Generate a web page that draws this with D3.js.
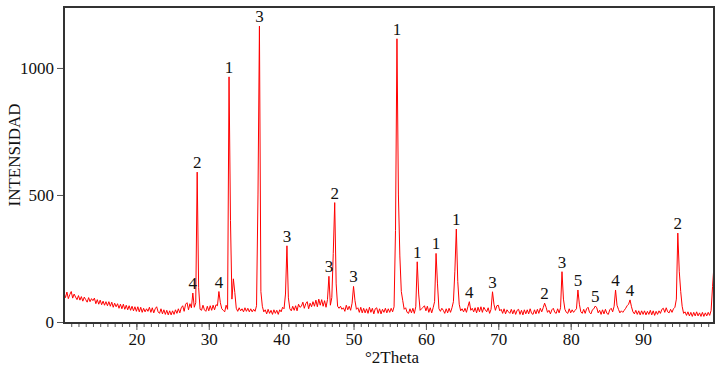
<html>
    <head>
        <style>
            body { margin: 0; background: white; }
            .line { fill: none; stroke: #ff0000; stroke-width: 1; }
        </style>
    </head>
    <body>
        <script src="https://cdn.jsdelivr.net/npm/d3@7"></script>

        <svg id="chart" width="720" height="370"></svg>

        <script>
            // diffractogram, one count value every 0.2 deg from 10.0
            let startAngle = 10;
            let stepAngle = 0.2;
            let counts = [
                112,96,118,92,108,120,94,110,98,88,       // 10
                104,86,100,82,98,88,78,96,80,92,          // 12
                84,94,72,88,70,86,68,82,66,80,            // 14
                64,80,62,78,58,74,60,72,54,70,            // 16
                52,70,50,66,48,64,46,62,44,60,            // 18
                42,60,40,58,38,54,40,52,42,58,            // 20
                38,56,36,52,60,40,34,52,32,48,            // 22
                30,46,28,44,28,44,30,48,34,52,            // 24
                36,56,64,42,70,76,48,72,56,114,           // 26
                58,76,590,135,50,46,66,48,42,62,          // 28
                44,64,46,66,48,68,64,120,76,52,           // 30
                46,40,66,50,965,400,90,170,116,54,        // 32
                42,56,44,52,40,56,42,54,40,52,            // 34
                40,50,42,64,500,1165,120,62,40,48,        // 36
                32,50,34,46,30,48,34,46,30,48,            // 38
                40,58,52,110,300,95,52,44,62,46,          // 40
                64,44,70,58,62,78,54,72,80,52,            // 42
                74,60,80,62,86,60,90,66,88,62,            // 44
                84,58,88,180,66,96,270,470,150,62,        // 46
                54,62,50,56,42,66,48,62,46,74,            // 48
                140,84,50,56,38,58,36,54,36,52,           // 50
                34,58,38,54,32,52,56,34,52,32,            // 52
                50,38,54,36,52,38,54,40,60,360,           // 54
                1115,500,260,120,84,50,56,38,34,52,       // 56
                36,54,34,60,237,110,46,52,58,64,          // 58
                44,62,38,56,36,56,80,270,150,52,          // 60
                42,54,46,34,52,36,54,38,56,80,            // 62
                200,366,160,70,44,52,40,54,38,60,         // 64
                80,46,54,40,56,36,58,40,60,38,            // 66
                58,48,40,56,34,50,119,70,46,64,           // 68
                66,44,50,34,52,32,48,40,34,50,            // 70
                32,48,30,46,50,30,46,28,48,32,            // 72
                48,32,52,34,30,48,32,50,34,54,            // 74
                40,56,74,58,38,46,32,48,54,38,            // 76
                34,52,36,56,198,90,50,38,34,52,           // 78
                36,48,38,46,52,126,70,40,34,50,           // 80
                34,52,58,38,32,48,52,63,56,36,            // 82
                46,30,48,32,50,34,30,48,54,40,            // 84
                62,126,66,50,36,44,38,46,54,64,           // 86
                70,87,60,40,32,46,30,44,28,44,            // 88
                30,44,28,42,30,46,28,44,26,42,            // 90
                30,44,34,50,54,38,56,40,36,50,            // 92
                38,52,58,90,350,200,120,62,34,40,         // 94
                26,40,24,38,22,38,24,40,24,36,            // 96
                22,38,22,36,24,38,26,45,140,225           // 98
            ];

            // phase numbers written over the peaks
            let labelAngles = [27.8, 28.4, 31.4, 32.8, 37.0, 40.8, 46.6, 47.4, 50.0, 56.0, 58.8,
                               61.4, 64.2, 66.0, 69.2, 76.4, 78.8, 81.0, 83.4, 86.2, 88.2, 94.8];
            let labelTexts  = ["4", "2", "4", "1", "3", "3", "3", "2", "3", "1", "1",
                               "1", "1", "4", "3", "2", "3", "5", "5", "4", "4", "2"];

            let xTicks = [20, 30, 40, 50, 60, 70, 80, 90];
            let yTicks = [0, 500, 1000];

            let data = counts.map((c, i) => ({x: +(startAngle + i * stepAngle).toFixed(1), y: c}));

            let plotLeft = 64, plotTop = 7, plotRight = 714, plotBottom = 322;
            let serif = "Liberation Serif";

            let xScale = d3.scaleLinear().domain([10, 99.8]).range([plotLeft, plotRight]);
            let yScale = d3.scaleLinear().domain([0, 1240]).range([plotBottom, plotTop]);

            let svg = d3.select("#chart");

            svg.append("clipPath").attr("id", "plotclip")
                .append("rect")
                .attr("x", plotLeft).attr("y", plotTop)
                .attr("width", plotRight - plotLeft).attr("height", plotBottom - plotTop);

            let lineGenerator = d3.line()
                .x(d => xScale(d.x))
                .y(d => yScale(d.y));

            svg.append("path")
                .datum(data)
                .attr("class", "line")
                .attr("clip-path", "url(#plotclip)")
                .attr("d", lineGenerator);

            // minor ticks every degree
            let minor = d3.axisBottom(xScale)
                .tickValues(d3.range(11, 100))
                .tickSize(4)
                .tickFormat("");
            svg.append("g")
                .attr("transform", `translate(0, ${plotBottom + 1})`)
                .call(minor)
                .call(g => g.select(".domain").remove())
                .call(g => g.selectAll("line").attr("stroke", "#555"));

            let xAxis = d3.axisBottom(xScale)
                .tickValues(xTicks)
                .tickFormat(d3.format("d"))
                .tickSize(7)
                .tickPadding(3);
            svg.append("g")
                .attr("transform", `translate(0, ${plotBottom + 1})`)
                .call(xAxis)
                .attr("font-family", serif)
                .attr("font-size", 17)
                .call(g => g.select(".domain").remove())
                .call(g => g.selectAll("line").attr("stroke", "#555"))
                .call(g => g.selectAll("text").attr("fill", "#111"));

            let yAxis = d3.axisLeft(yScale)
                .tickValues(yTicks)
                .tickFormat(d3.format("d"))
                .tickSize(7)
                .tickPadding(3);
            svg.append("g")
                .attr("transform", `translate(${plotLeft}, 0)`)
                .call(yAxis)
                .attr("font-family", serif)
                .attr("font-size", 17)
                .call(g => g.select(".domain").remove())
                .call(g => g.selectAll("line").attr("stroke", "#555"))
                .call(g => g.selectAll("text").attr("fill", "#111"));

            // frame
            svg.append("rect")
                .attr("x", plotLeft).attr("y", plotTop)
                .attr("width", plotRight - plotLeft).attr("height", plotBottom + 1 - plotTop)
                .attr("fill", "none")
                .attr("stroke", "#333")
                .attr("stroke-width", 2);

            // peak numbers
            let peakHeight = a => {
                let near = data.filter(d => Math.abs(d.x - a) < 0.05);
                return near.length ? near[0].y : 0;
            };
            svg.append("g").selectAll("text")
                .data(labelAngles)
                .enter()
                .append("text")
                .attr("x", d => xScale(d))
                .attr("y", d => yScale(peakHeight(d)) - 4)
                .attr("text-anchor", "middle")
                .attr("font-family", serif)
                .attr("font-size", 17)
                .attr("fill", "#111")
                .text((d, i) => labelTexts[i]);

            svg.append("text")
                .attr("x", 392).attr("y", 363)
                .attr("text-anchor", "middle")
                .attr("font-family", serif)
                .attr("font-size", 17)
                .attr("fill", "#111")
                .text("°2Theta");

            svg.append("text")
                .attr("transform", "translate(20, 155) rotate(-90)")
                .attr("text-anchor", "middle")
                .attr("font-family", serif)
                .attr("font-size", 17)
                .attr("fill", "#111")
                .text("INTENSIDAD");
        </script>
    </body>
</html>
